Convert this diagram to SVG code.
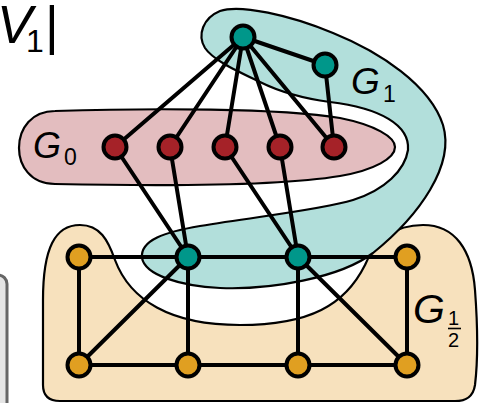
<svg xmlns="http://www.w3.org/2000/svg" width="482" height="403" viewBox="0 0 482 403">
<style>
.blob{stroke:#000;stroke-width:2.2}
.e{stroke:#000;stroke-width:4;fill:none;stroke-linecap:round}
.n{stroke:#000;stroke-width:4}
.teal{fill:#00978a}
.red{fill:#a52228}
.org{fill:#e09f21}
.lbl{font-family:"Liberation Sans",Arial,sans-serif;fill:#000}
.it{font-style:italic}
</style>
<rect x="-30" y="275" width="37" height="160" rx="9" fill="#e5e5e5" stroke="#666" stroke-width="3"/>
<g id="text-v1">
<text class="lbl it" x="-3" y="43" font-size="53">V</text>
<text class="lbl" x="26" y="52" font-size="32">1</text>
<text class="lbl" x="45" y="44" font-size="53">|</text>
</g>
<g id="G_half">
<path class="blob" fill="#f7e1bd" d="M43,385 L43,300 C43,248 55,225 80,225 C100,225 108,240 115,260 C130,300 170,325 240,325 C310,325 345,305 365,265 C375,240 395,225 423,225 C455,225 472,250 475,290 C478,330 478,360 475,385 C473,398 465,401 455,401 L60,401 C48,401 43,395 43,385 Z"/>
<text class="lbl it" x="413" y="323" font-size="41">G</text>
<text class="lbl" x="448" y="325" font-size="20">1</text>
<line x1="448" y1="328.5" x2="461" y2="328.5" stroke="#000" stroke-width="1.6"/>
<text class="lbl" x="448" y="347" font-size="20">2</text>
</g>
<g id="G0">
<path class="blob" fill="#e3bdbf" d="M55,111 C150,108 280,108 340,118 C375,125 395,137 395,147 C395,158 375,170 340,176 C280,186 150,186 55,184 C30,184 19,165 19,148 C19,128 32,111 55,111 Z"/>
<text class="lbl it" x="33" y="158" font-size="36">G</text>
<text class="lbl" x="64" y="165" font-size="23">0</text>
</g>
<g id="G1">
<path class="blob" fill="#b2dfdb" d="M142,258 C140,240 165,232 200,226 C260,216 320,210 353,200 C385,190 405,170 408,150 C410,125 380,108 330,102 C300,98 280,92 260,82 C235,70 213,60 205,48 C197,35 203,18 220,11 C240,4 290,15 333,33 C380,52 430,85 443,125 C455,165 420,215 373,253 C340,278 270,290 220,288 C180,286 145,275 142,258 Z"/>
<text class="lbl it" x="351" y="94" font-size="37">G</text>
<text class="lbl" x="383" y="102" font-size="23">1</text>
</g>
<g id="connectors">
<line class="e" x1="243" y1="37" x2="325" y2="65"/>
<line class="e" x1="243" y1="37" x2="115" y2="147"/>
<line class="e" x1="243" y1="37" x2="170" y2="147"/>
<line class="e" x1="243" y1="37" x2="225" y2="147"/>
<line class="e" x1="243" y1="37" x2="280" y2="147"/>
<line class="e" x1="243" y1="37" x2="334" y2="147"/>
<line class="e" x1="325" y1="65" x2="334" y2="147"/>
<line class="e" x1="115" y1="147" x2="188" y2="257"/>
<line class="e" x1="170" y1="147" x2="188" y2="257"/>
<line class="e" x1="225" y1="147" x2="298" y2="257"/>
<line class="e" x1="280" y1="147" x2="298" y2="257"/>
<line class="e" x1="79" y1="257" x2="407" y2="257"/>
<line class="e" x1="79" y1="365" x2="407" y2="365"/>
<line class="e" x1="79" y1="257" x2="79" y2="365"/>
<line class="e" x1="188" y1="257" x2="188" y2="365"/>
<line class="e" x1="298" y1="257" x2="298" y2="365"/>
<line class="e" x1="407" y1="257" x2="407" y2="365"/>
<line class="e" x1="188" y1="257" x2="79" y2="365"/>
<line class="e" x1="298" y1="257" x2="407" y2="365"/>
</g>
<g id="t0"><circle class="n teal" cx="243" cy="37" r="11.5"/></g>
<g id="t1"><circle class="n teal" cx="325" cy="65" r="11.5"/></g>
<g id="r1"><circle class="n red" cx="115" cy="147" r="11.5"/></g>
<g id="r2"><circle class="n red" cx="170" cy="147" r="11.5"/></g>
<g id="r3"><circle class="n red" cx="225" cy="147" r="11.5"/></g>
<g id="r4"><circle class="n red" cx="280" cy="147" r="11.5"/></g>
<g id="r5"><circle class="n red" cx="334" cy="147" r="11.5"/></g>
<g id="m1"><circle class="n teal" cx="188" cy="257" r="11.5"/></g>
<g id="m2"><circle class="n teal" cx="298" cy="257" r="11.5"/></g>
<g id="o1"><circle class="n org" cx="79" cy="257" r="11.5"/></g>
<g id="o2"><circle class="n org" cx="407" cy="257" r="11.5"/></g>
<g id="b1"><circle class="n org" cx="79" cy="365" r="11.5"/></g>
<g id="b2"><circle class="n org" cx="188" cy="365" r="11.5"/></g>
<g id="b3"><circle class="n org" cx="298" cy="365" r="11.5"/></g>
<g id="b4"><circle class="n org" cx="407" cy="365" r="11.5"/></g>
</svg>
